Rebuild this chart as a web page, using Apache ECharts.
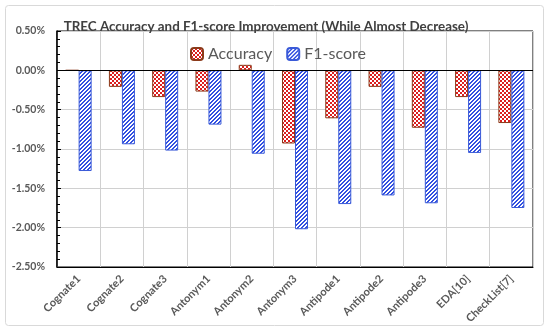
<!DOCTYPE html>
<html>
<head>
<meta charset="utf-8">
<script src="https://cdn.jsdelivr.net/npm/echarts@6/dist/echarts.min.js"></script>
<style>html,body{margin:0;padding:0;background:#fff}#c{width:550px;height:334px}</style>
</head>
<body>
<div id="c"></div>
<script>
const categories = ['Cognate1','Cognate2','Cognate3','Antonym1','Antonym2','Antonym3','Antipode1','Antipode2','Antipode3','EDA[10]','CheckList[7]'];
const accuracy = [0, -0.21, -0.34, -0.27, 0.07, -0.93, -0.61, -0.21, -0.73, -0.34, -0.67];
const f1score = [-1.28, -0.94, -1.02, -0.69, -1.06, -2.02, -1.70, -1.59, -1.69, -1.05, -1.75];
const yTicks = {min: -2.5, max: 0.5, interval: 0.5};

function makePattern(w, h, fn) {
  const cv = document.createElement('canvas');
  cv.width = w; cv.height = h;
  const ctx = cv.getContext('2d');
  const img = ctx.createImageData(w, h);
  for (let y = 0; y < h; y++) for (let x = 0; x < w; x++) {
    const c = fn(x, y);
    const i = (y * w + x) * 4;
    img.data[i] = c[0]; img.data[i+1] = c[1]; img.data[i+2] = c[2]; img.data[i+3] = 255;
  }
  ctx.putImageData(img, 0, 0);
  return cv;
}
const red = [220, 30, 30], white = [255, 255, 255], blue = [50, 80, 225];
const checker = makePattern(4, 4, (x, y) => ((Math.floor(x/2) + Math.floor(y/2)) % 2 === 0) ? red : white);
const stripes = makePattern(4, 4, (x, y) => ((x + y) % 4 < 2) ? blue : white);

const chart = echarts.init(document.getElementById('c'));
chart.setOption({
  animation: false,
  backgroundColor: '#fff',
  title: {
    text: 'TREC Accuracy and F1-score Improvement (While Almost Decrease)',
    left: 261, textAlign: 'center', top: 15,
    textStyle: {fontFamily: 'Lato', fontWeight: 'bold', fontSize: 13.4, color: '#404040'}
  },
  legend: {
    left: 185, top: 41, itemWidth: 12, itemHeight: 12, itemGap: 14,
    textStyle: {fontFamily: 'Lato', fontSize: 16, color: '#595959'},
    data: ['Accuracy', 'F1-score']
  },
  grid: {left: 57, right: 17, top: 31, bottom: 67, show: true, borderColor: '#000', borderWidth: 1},
  xAxis: {
    type: 'category', data: categories,
    axisLine: {onZero: false, lineStyle: {color: '#000'}},
    axisTick: {show: false},
    splitLine: {show: true, interval: 0, lineStyle: {color: '#d0d0d0'}},
    axisLabel: {rotate: 45, interval: 0, margin: 10, fontFamily: 'Lato', fontSize: 11, fontWeight: 'bold', color: '#595959'}
  },
  yAxis: {
    type: 'value', min: yTicks.min, max: yTicks.max, interval: yTicks.interval,
    axisLine: {show: true, lineStyle: {color: '#000', width: 1.5}},
    axisTick: {show: true, inside: true, length: 4, lineStyle: {color: '#000'}},
    minorTick: {show: true, splitNumber: 5, length: 3, lineStyle: {color: '#000'}},
    splitLine: {lineStyle: {color: '#d0d0d0'}},
    axisLabel: {margin: 12, fontFamily: 'Lato', fontSize: 10.5, fontWeight: 'bold', color: '#595959', formatter: v => v.toFixed(2) + '%'}
  },
  series: [
    {
      name: 'Accuracy', type: 'bar', data: accuracy, barWidth: 13, barGap: '0%',
      itemStyle: {color: {image: checker, repeat: 'repeat'}, borderColor: '#8b3a1a', borderWidth: 1},
      markLine: {silent: true, symbol: 'none', label: {show: false}, lineStyle: {color: '#000', type: 'solid', width: 1.2}, data: [{yAxis: 0}]}
    },
    {
      name: 'F1-score', type: 'bar', data: f1score, barWidth: 13,
      itemStyle: {color: {image: stripes, repeat: 'repeat'}, borderColor: '#3a5ad8', borderWidth: 1}
    }
  ],
  graphic: [{type: 'rect', shape: {x: 5.5, y: 5.5, width: 538, height: 320, r: 3}, style: {fill: 'none', stroke: '#d9d9d9', lineWidth: 1}, silent: true}]
});
</script>
</body>
</html>
